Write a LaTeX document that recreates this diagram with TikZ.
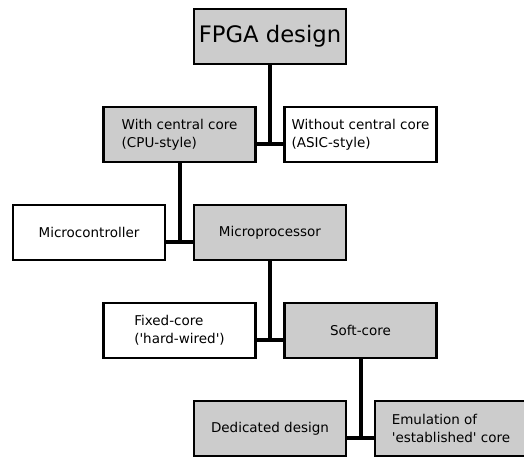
\documentclass[tikz,border=0pt]{standalone}
\usepackage{fontspec}
\setmainfont{DejaVu Sans}[Ligatures=TeXOff]
\usetikzlibrary{positioning}
\definecolor{boxgrey}{HTML}{CCCCCC}

\begin{document}
\begin{tikzpicture}[
    x=1pt, y=-1pt,
    box/.style={draw, line width=2.5pt, minimum width=152pt, minimum height=55pt,
        inner sep=2pt, outer sep=0pt, align=left, font=\fontsize{13.5}{18}\selectfont},
    greybox/.style={box, fill=boxgrey},
    link/.style={line width=4pt}
]
    \useasboundingbox (0,0) rectangle (524,458);

    % Top Level
    \node[greybox, font=\fontsize{22.7}{27}\selectfont] (FPGA) at (270,36.5) {FPGA design};

    % Second Level
    \node[greybox, below left=43pt and 14.5pt of FPGA.south] (CPU) {With central core\\(CPU-style)};
    \node[box, below right=43pt and 14.5pt of FPGA.south] (ASIC) {Without central core\\(ASIC-style)};

    % Third Level
    \node[box, below left=43pt and 14.5pt of CPU.south] (MCU) {Microcontroller};
    \node[greybox, below right=43pt and 14.5pt of CPU.south] (MPU) {Microprocessor};

    % Fourth Level
    \node[box, below left=43pt and 14.5pt of MPU.south] (FIXED) {Fixed-core\\('hard-wired')};
    \node[greybox, below right=43pt and 14.5pt of MPU.south] (SOFT) {Soft-core};

    % Bottom Level
    \node[greybox, below left=43pt and 14.5pt of SOFT.south] (DEDIC) {Dedicated design};
    \node[greybox, below right=43pt and 14.5pt of SOFT.south] (EMUL) {Emulation of\\'established' core};

    % Junctions
    \coordinate (J1) at ([yshift=18.5pt]CPU.south -| FPGA.south);
    \coordinate (J2) at ([yshift=18.5pt]MCU.south -| CPU.south);
    \coordinate (J3) at ([yshift=18.5pt]FIXED.south -| MPU.south);
    \coordinate (J4) at ([yshift=18.5pt]DEDIC.south -| SOFT.south);

    % Links
    \draw[link] (FPGA.south) -- (J1);
    \draw[link] (CPU.east |- J1) -- (ASIC.west |- J1);
    \draw[link] (CPU.south) -- (J2);
    \draw[link] (MCU.east |- J2) -- (MPU.west |- J2);
    \draw[link] (MPU.south) -- (J3);
    \draw[link] (FIXED.east |- J3) -- (SOFT.west |- J3);
    \draw[link] (SOFT.south) -- (J4);
    \draw[link] (DEDIC.east |- J4) -- (EMUL.west |- J4);

\end{tikzpicture}
\end{document}
